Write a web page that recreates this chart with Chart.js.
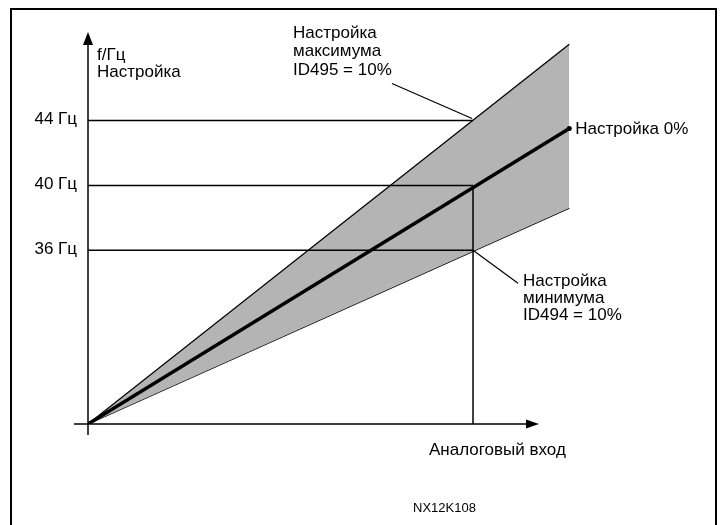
<!DOCTYPE html>
<html>
<head>
<meta charset="utf-8">
<script src="https://cdn.jsdelivr.net/npm/chart.js@4"></script>
<style>
    html, body { margin: 0; padding: 0; background: #fff; }
    #wrap { width: 720px; height: 525px; }
</style>
</head>
<body>
<div id="wrap"><canvas id="freqChart" width="720" height="525"></canvas></div>
<script>
// ===========================
// Chart data
// ===========================

const inputPct = [0, 100];            // analog input, % of range
const freqCenter = [25.3, 43.5];      // Настройка 0%
const freqMax = [25.3, 48.7];         // Настройка максимума ID495 = 10%
const freqMin = [25.3, 38.6];         // Настройка минимума ID494 = 10%
const refInput = 80;                  // input where the reference lines cross
const tickHz = [44, 40, 36];
const tickLabels = ['44 Гц', '40 Гц', '36 Гц'];

const FONT = '"Liberation Sans", Arial, sans-serif';

function toPoints(ys) {
    return inputPct.map((x, i) => ({ x: x, y: ys[i] }));
}

// ===========================
// Drawing helpers
// ===========================

function line(ctx, x1, y1, x2, y2, w) {
    ctx.beginPath();
    ctx.lineWidth = w || 1.5;
    ctx.moveTo(x1, y1);
    ctx.lineTo(x2, y2);
    ctx.stroke();
}

function arrowHead(ctx, x, y, dir) {
    ctx.beginPath();
    if (dir === 'up') {
        ctx.moveTo(x, y);
        ctx.lineTo(x - 5, y + 13);
        ctx.lineTo(x + 5, y + 13);
    } else {
        ctx.moveTo(x, y);
        ctx.lineTo(x - 13, y - 4.5);
        ctx.lineTo(x - 13, y + 4.5);
    }
    ctx.closePath();
    ctx.fill();
}

function text(ctx, str, x, y, size, align) {
    ctx.font = `${size || 17}px ${FONT}`;
    ctx.textAlign = align || 'left';
    ctx.textBaseline = 'middle';
    ctx.fillText(str, x, y);
}

// ===========================
// Diagram plugin: frame, axes, reference lines, notes
// ===========================

const diagramPlugin = {
    id: 'diagram',
    afterDatasetsDraw(chart) {
        const ctx = chart.ctx;
        const xs = chart.scales.x;
        const ys = chart.scales.y;
        const x0 = xs.getPixelForValue(0);
        const y0 = ys.getPixelForValue(ys.min);
        const xr = xs.getPixelForValue(refInput);

        ctx.save();
        ctx.strokeStyle = '#000';
        ctx.fillStyle = '#000';

        // reference lines
        tickHz.forEach((hz, i) => {
            const y = ys.getPixelForValue(hz);
            line(ctx, x0, y, xr, y, 1.5);
            text(ctx, tickLabels[i], x0 - 11, y - 1, 17, 'right');
        });
        line(ctx, xr, ys.getPixelForValue(40), xr, y0, 1.5);

        // axes
        line(ctx, x0, y0 + 11, x0, chart.chartArea.top + 10, 1.5);
        arrowHead(ctx, x0, chart.chartArea.top, 'up');
        line(ctx, x0 - 14, y0, 528, y0, 1.5);
        arrowHead(ctx, 539, y0, 'right');

        // axis titles
        text(ctx, 'f/Гц', x0 + 9, 55);
        text(ctx, 'Настройка', x0 + 9, 72);
        text(ctx, 'Аналоговый вход', 429, 450);
        text(ctx, 'NX12K108', 413, 508, 13);

        // max note with leader
        const yMax = ys.getPixelForValue(44);
        line(ctx, xr - 81, yMax - 37, xr - 1, yMax - 2, 1.2);
        text(ctx, 'Настройка', 293, 33);
        text(ctx, 'максимума', 293, 51.5);
        text(ctx, 'ID495 = 10%', 293, 70);

        // min note with leader
        const yMin = ys.getPixelForValue(36);
        line(ctx, xr, yMin, xr + 45, yMin + 33, 1.2);
        text(ctx, 'Настройка', 523, 281);
        text(ctx, 'минимума', 523, 298);
        text(ctx, 'ID494 = 10%', 523, 315);

        // center line label
        const xEnd = xs.getPixelForValue(inputPct[inputPct.length - 1]);
        const yEnd = ys.getPixelForValue(freqCenter[freqCenter.length - 1]);
        text(ctx, 'Настройка 0%', xEnd + 6, yEnd + 1);

        // frame
        ctx.lineWidth = 2;
        ctx.beginPath();
        ctx.moveTo(11, 525);
        ctx.lineTo(11, 9);
        ctx.lineTo(716, 9);
        ctx.lineTo(716, 525);
        ctx.stroke();

        ctx.restore();
    }
};

// ===========================
// Chart
// ===========================

const ctx = document.getElementById('freqChart');

new Chart(ctx, {
    type: 'scatter',
    data: {
        datasets: [
            {
                label: 'Настройка 0%',
                data: toPoints(freqCenter),
                showLine: true,
                borderColor: '#000',
                borderWidth: 3.5,
                pointRadius: [0, 2.5],
                pointBackgroundColor: '#000',
                pointBorderWidth: 0,
                fill: false
            },
            {
                label: 'Настройка максимума',
                data: toPoints(freqMax),
                showLine: true,
                borderColor: '#000',
                borderWidth: 1.3,
                pointRadius: 0,
                backgroundColor: '#b4b4b4',
                fill: 2
            },
            {
                label: 'Настройка минимума',
                data: toPoints(freqMin),
                showLine: true,
                borderColor: '#000',
                borderWidth: 1.3,
                pointRadius: 0,
                fill: false
            }
        ]
    },
    options: {
        responsive: false,
        animation: false,
        layout: {
            padding: { left: 88, right: 30.4, top: 32, bottom: 101 }
        },
        scales: {
            x: { type: 'linear', min: 0, max: 125, display: false },
            y: { type: 'linear', min: 25.3, max: 49.45, display: false }
        },
        plugins: {
            legend: { display: false },
            tooltip: { enabled: false }
        }
    },
    plugins: [diagramPlugin]
});
</script>
</body>
</html>
